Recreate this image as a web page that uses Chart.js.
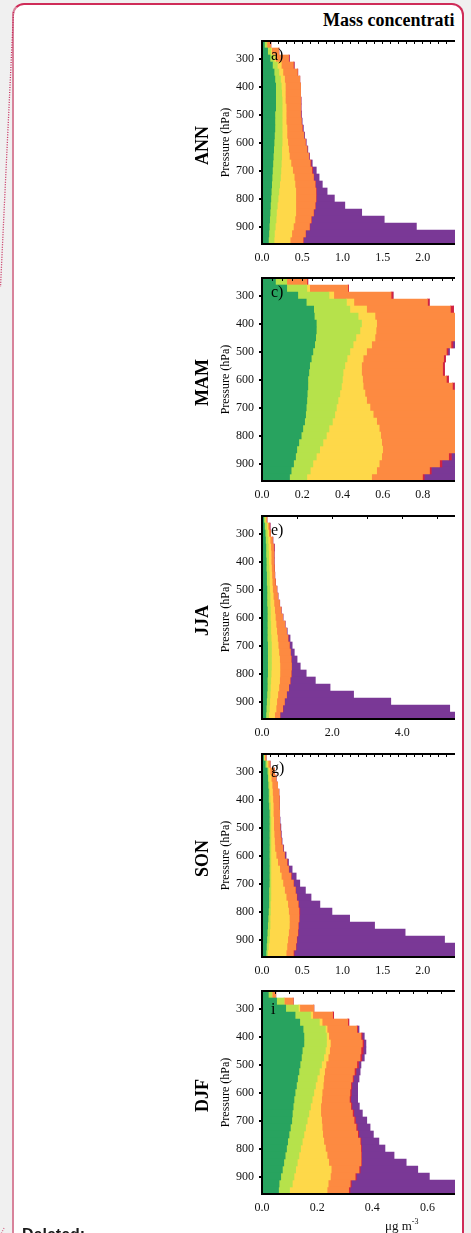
<!DOCTYPE html>
<html>
<head>
<meta charset="utf-8">
<script src="https://cdn.jsdelivr.net/npm/chart.js@4.4.1/dist/chart.umd.min.js"></script>
<style>
  html, body { margin: 0; padding: 0; }
  body {
    width: 471px; height: 1233px; overflow: hidden; position: relative;
    background: #f0f0f0; font-family: "Liberation Serif", "Times New Roman", serif;
  }
  #sheet {
    position: absolute; left: 12px; top: 3px; width: 448px; height: 1300px;
    background: #fff; border: 2px solid #cf2c58; border-left-color: #d8839b;
    border-radius: 12px;
  }
  #connector { position: absolute; left: 0; top: 0; }
  #titleClip { position: absolute; left: 0; top: 0; width: 455px; height: 36px; overflow: hidden; }
  #title {
    position: absolute; left: 323px; top: 11px; white-space: nowrap;
    font: bold 18px/18px "Liberation Serif", serif; color: #000;
  }
  .panel { position: absolute; left: 190px; }
  #unit { position: absolute; left: 385px; top: 1216px; font: 13px/13px "Liberation Serif", serif; color: #111; }
  #unit sup { font-size: 8px; position: relative; top: -1px; }
  #deleted { position: absolute; left: 22px; top: 1227px; font: bold 16px/16px "Liberation Sans", Arial, sans-serif; color: #1a1a1a; }
</style>
</head>
<body>
<div id="sheet"></div>
<svg id="connector" width="20" height="1233">
  <line x1="13.5" y1="12" x2="0.5" y2="287" stroke="#c62a5a" stroke-width="1.3" stroke-dasharray="1 1.5"/>
  <line x1="4" y1="1228" x2="0" y2="1236" stroke="#d66a8a" stroke-width="1.3" stroke-dasharray="1 1.5"/>
</svg>
<div id="titleClip"><div id="title">Mass concentration</div></div>

<canvas class="panel" id="pANN" width="265" height="247" style="top:27px"></canvas>
<canvas class="panel" id="pMAM" width="265" height="247" style="top:264px"></canvas>
<canvas class="panel" id="pJJA" width="265" height="247" style="top:502px"></canvas>
<canvas class="panel" id="pSON" width="265" height="247" style="top:740px"></canvas>
<canvas class="panel" id="pDJF" width="265" height="247" style="top:977px"></canvas>

<div id="unit">μg m<sup>-3</sup></div>
<div id="deleted">Deleted:</div>

<script>
// pressure levels (hPa), one bar per level
const levels = [250, 275, 300, 325, 350, 375, 400, 425, 450, 475, 500, 525, 550, 575, 600,
                625, 650, 675, 700, 725, 750, 775, 800, 825, 850, 875, 900, 925, 950];

// stack colours, left to right
const layerColors = ['#28a35f', '#b6e24b', '#fed849', '#fd8a41', '#d4233f', '#7a3896'];

// component concentrations per level, in stacking order (µg m-3)
const ann = [
  [0.03,0.07,0.10,0.13,0.15,0.16,0.17,0.17,0.17,0.17,0.16,0.16,0.16,0.155,0.15,0.145,0.14,0.135,0.13,0.125,0.12,0.115,0.11,0.105,0.10,0.095,0.09,0.085,0.08],
  [0.03,0.04,0.05,0.06,0.06,0.07,0.07,0.075,0.08,0.08,0.09,0.09,0.09,0.095,0.10,0.10,0.105,0.105,0.105,0.105,0.10,0.095,0.09,0.085,0.08,0.08,0.075,0.07,0.07],
  [0,0.01,0.02,0.05,0.05,0.05,0.05,0.045,0.04,0.05,0.05,0.05,0.06,0.06,0.07,0.085,0.095,0.12,0.145,0.17,0.19,0.21,0.22,0.23,0.24,0.235,0.225,0.215,0.20],
  [0.05,0.09,0.16,0.15,0.18,0.19,0.19,0.19,0.19,0.18,0.18,0.19,0.19,0.21,0.22,0.23,0.24,0.24,0.24,0.24,0.25,0.25,0.25,0.24,0.22,0.20,0.20,0.17,0.16],
  [0,0,0.01,0.01,0.005,0,0,0,0.005,0.005,0.005,0,0.005,0,0.005,0,0.005,0.01,0.01,0.005,0.005,0.005,0.005,0.005,0.005,0.005,0.005,0.005,0.005],
  [0,0,0,0,0,0,0,0,0,0,0.005,0.01,0.01,0.01,0.005,0.01,0.005,0.015,0.045,0.065,0.085,0.135,0.225,0.365,0.595,0.905,1.325,2.055,2.385]
];

const mam = [
  [0.067,0.123,0.178,0.22,0.257,0.26,0.27,0.27,0.267,0.262,0.253,0.245,0.237,0.233,0.228,0.228,0.225,0.223,0.22,0.217,0.212,0.203,0.195,0.183,0.173,0.167,0.157,0.145,0.137],
  [0.056,0.10,0.155,0.20,0.18,0.218,0.225,0.217,0.20,0.191,0.184,0.178,0.175,0.17,0.172,0.167,0.162,0.155,0.15,0.145,0.138,0.13,0.125,0.12,0.114,0.103,0.096,0.095,0.086],
  [0,0.014,0.024,0.037,0.083,0.084,0.075,0.08,0.095,0.092,0.083,0.08,0.083,0.092,0.10,0.108,0.125,0.142,0.167,0.191,0.22,0.25,0.27,0.292,0.313,0.325,0.33,0.33,0.322],
  [0.10,0.19,0.285,0.366,0.417,0.42,0.43,0.42,0.41,0.395,0.397,0.40,0.403,0.403,0.417,0.444,0.47,0.46,0.44,0.42,0.40,0.39,0.38,0.37,0.37,0.333,0.30,0.263,0.253],
  [0.005,0.004,0.01,0.009,0.016,0.01,0.01,0.01,0.01,0.01,0.008,0.01,0.01,0.01,0.011,0.01,0.01,0.01,0.01,0.01,0.01,0.01,0.01,0.01,0.01,0.014,0.012,0.009,0.009],
  [0,0,0,0,0,0.01,0.01,0.01,0.01,0.02,0.008,0,0,0,0,0,0.01,0.01,0.01,0.01,0.01,0.01,0.01,0.02,0.03,0.05,0.10,0.15,0.20]
];

const jja = [
  [0.05,0.07,0.09,0.10,0.11,0.11,0.12,0.12,0.13,0.13,0.14,0.14,0.14,0.15,0.15,0.15,0.15,0.15,0.16,0.16,0.16,0.16,0.16,0.15,0.15,0.14,0.13,0.12,0.11],
  [0.04,0.06,0.06,0.07,0.07,0.08,0.07,0.08,0.08,0.08,0.08,0.09,0.09,0.09,0.09,0.10,0.10,0.11,0.11,0.11,0.11,0.11,0.10,0.10,0.09,0.09,0.09,0.09,0.08],
  [0.02,0.04,0.04,0.06,0.07,0.07,0.07,0.07,0.07,0.08,0.08,0.09,0.11,0.12,0.14,0.15,0.17,0.18,0.19,0.21,0.23,0.24,0.25,0.25,0.24,0.22,0.20,0.19,0.17],
  [0.03,0.04,0.05,0.07,0.08,0.08,0.08,0.08,0.08,0.09,0.12,0.13,0.16,0.18,0.21,0.25,0.28,0.30,0.32,0.33,0.33,0.33,0.32,0.30,0.28,0.25,0.22,0.19,0.15],
  [0,0.02,0.005,0.01,0.02,0.005,0.005,0.005,0.005,0.005,0.005,0.005,0.005,0.005,0.005,0.005,0.005,0.005,0.005,0.005,0.005,0.005,0.005,0.005,0.005,0.005,0.005,0.01,0.005],
  [0,0,0,0,0,0,0,0,0,0,0,0,0,0,0.005,0.005,0.015,0.055,0.075,0.105,0.165,0.245,0.425,0.715,1.175,1.905,3.025,4.75,5.685]
];

const son = [
  [0.02,0.04,0.065,0.07,0.075,0.08,0.08,0.085,0.09,0.09,0.09,0.09,0.09,0.09,0.09,0.09,0.09,0.09,0.09,0.085,0.085,0.085,0.08,0.075,0.07,0.065,0.06,0.055,0.05],
  [0.005,0.02,0.015,0.015,0.015,0.015,0.02,0.02,0.015,0.02,0.02,0.02,0.02,0.02,0.02,0.02,0.02,0.02,0.02,0.025,0.025,0.02,0.025,0.025,0.03,0.03,0.03,0.025,0.02],
  [0.01,0.015,0.02,0.03,0.035,0.035,0.035,0.035,0.035,0.035,0.035,0.04,0.045,0.05,0.065,0.085,0.11,0.13,0.15,0.17,0.19,0.215,0.225,0.24,0.24,0.235,0.23,0.23,0.23],
  [0.015,0.025,0.055,0.06,0.07,0.08,0.08,0.075,0.08,0.075,0.08,0.08,0.085,0.10,0.105,0.115,0.11,0.12,0.13,0.135,0.13,0.13,0.13,0.12,0.11,0.115,0.11,0.11,0.09],
  [0,0,0,0,0,0,0,0,0,0,0,0.005,0.005,0,0.005,0.005,0.005,0.005,0.005,0.005,0.005,0.005,0.01,0.005,0.005,0.005,0.005,0.005,0.01],
  [0,0,0,0,0,0,0,0,0,0.005,0.01,0.005,0.005,0.01,0.015,0.015,0.04,0.06,0.075,0.12,0.175,0.265,0.40,0.625,0.945,1.33,1.835,2.275,2.6]
];

const djf = [
  [0.023,0.053,0.086,0.12,0.137,0.149,0.152,0.152,0.146,0.143,0.138,0.134,0.129,0.125,0.12,0.116,0.113,0.11,0.108,0.103,0.098,0.093,0.089,0.084,0.079,0.074,0.068,0.062,0.06],
  [0.013,0.027,0.046,0.056,0.071,0.081,0.082,0.082,0.084,0.081,0.078,0.074,0.071,0.069,0.068,0.066,0.063,0.06,0.056,0.055,0.054,0.053,0.051,0.05,0.049,0.048,0.048,0.048,0.04],
  [0,0,0.005,0.008,0.01,0.006,0.008,0.014,0.015,0.016,0.016,0.019,0.024,0.028,0.03,0.034,0.037,0.043,0.052,0.06,0.068,0.078,0.09,0.102,0.114,0.129,0.132,0.13,0.136],
  [0.014,0.033,0.051,0.072,0.093,0.108,0.117,0.116,0.114,0.116,0.112,0.108,0.104,0.10,0.101,0.101,0.109,0.115,0.118,0.123,0.127,0.132,0.128,0.123,0.117,0.101,0.09,0.08,0.078],
  [0,0,0,0.004,0.004,0.003,0.004,0.005,0.008,0.006,0.006,0.006,0.004,0.004,0.005,0.005,0.004,0.005,0.005,0.004,0.004,0.003,0.003,0.002,0.002,0.004,0.004,0.004,0.005],
  [0,0,0,0,0,0.005,0.008,0.008,0.01,0.009,0.009,0.015,0.02,0.021,0.023,0.025,0.027,0.031,0.041,0.047,0.053,0.065,0.085,0.118,0.162,0.209,0.265,0.426,0.481]
];

// one entry per panel: season, panel letter, data, axis extent and tick steps
const panels = [
  { id: 'pANN', season: 'ANN', letter: 'a)', layers: ann, xMax: 2.4,  major: 0.5, minor: 0.1,  drop: 19 },
  { id: 'pMAM', season: 'MAM', letter: 'c)', layers: mam, xMax: 0.96, major: 0.2, minor: 0.05, drop: 19 },
  { id: 'pJJA', season: 'JJA', letter: 'e)', layers: jja, xMax: 5.5,  major: 2.0, minor: 1.0,  drop: 19 },
  { id: 'pSON', season: 'SON', letter: 'g)', layers: son, xMax: 2.4,  major: 0.5, minor: 0.1,  drop: 19 },
  { id: 'pDJF', season: 'DJF', letter: 'i',  layers: djf, xMax: 0.70, major: 0.2, minor: 0.05, drop: 23 }
];

const serif = '"Liberation Serif", "Times New Roman", serif';

// season name, axis title and panel letter
const panelLabels = {
  id: 'panelLabels',
  afterDraw(chart, args, opts) {
    const { ctx, chartArea: a } = chart;
    const mid = (a.top + a.bottom) / 2;
    ctx.save();
    ctx.fillStyle = '#000';
    ctx.textAlign = 'center';
    ctx.textBaseline = 'middle';

    ctx.save();
    ctx.translate(a.left - 59, mid + 3);
    ctx.rotate(-Math.PI / 2);
    ctx.font = 'bold 18px ' + serif;
    ctx.fillText(opts.season, 0, 0);
    ctx.restore();

    ctx.save();
    ctx.translate(a.left - 36, mid);
    ctx.rotate(-Math.PI / 2);
    ctx.font = '12px ' + serif;
    ctx.fillText('Pressure (hPa)', 0, 0);
    ctx.restore();

    ctx.textAlign = 'left';
    ctx.textBaseline = 'alphabetic';
    ctx.font = '16px ' + serif;
    ctx.fillText(opts.letter, a.left + 9, a.top + opts.drop);
    ctx.restore();
  }
};

panels.forEach(p => {
  const ctx = document.getElementById(p.id).getContext('2d');
  new Chart(ctx, {
    type: 'bar',
    data: {
      labels: levels,
      datasets: p.layers.map((vals, i) => ({
        data: vals,
        backgroundColor: layerColors[i],
        borderWidth: 0,
        barPercentage: 1,
        categoryPercentage: 1,
        clip: 0
      }))
    },
    options: {
      indexAxis: 'y',
      responsive: false,
      animation: false,
      devicePixelRatio: 1,
      layout: { padding: 0 },
      scales: {
        x: {
          type: 'linear',
          position: 'bottom',
          stacked: true,
          offset: false,
          min: 0,
          max: p.xMax,
          ticks: {
            stepSize: p.major,
            includeBounds: false,
            padding: 7,
            color: '#111',
            font: { family: serif, size: 12 },
            callback: v => v.toFixed(1)
          },
          grid: { display: false, drawTicks: false },
          border: { display: true, width: 2, color: '#000', z: 1 },
          afterFit: s => { s.height = 30; }
        },
        xTop: {
          type: 'linear',
          position: 'top',
          offset: false,
          min: 0,
          max: p.xMax,
          ticks: { display: false, stepSize: p.minor, includeBounds: false },
          grid: { display: true, drawOnChartArea: false, drawTicks: true, tickLength: -3, color: '#000', lineWidth: 1, z: 1 },
          border: { display: true, width: 2, color: '#000', z: 1 },
          afterFit: s => { s.height = 14; }
        },
        y: {
          type: 'linear',
          reverse: true,
          stacked: true,
          offset: false,
          min: 237.5,
          max: 962.5,
          ticks: {
            stepSize: 100,
            includeBounds: false,
            padding: 5,
            color: '#111',
            font: { family: serif, size: 12 }
          },
          grid: { display: true, offset: false, drawOnChartArea: false, drawTicks: true, tickLength: 3, color: '#000', lineWidth: 2, z: 1 },
          border: { display: true, width: 2, color: '#000', z: 1 },
          afterFit: s => { s.width = 72; }
        }
      },
      plugins: {
        legend: { display: false },
        tooltip: { enabled: false },
        panelLabels: { season: p.season, letter: p.letter, drop: p.drop }
      }
    },
    plugins: [panelLabels]
  });
});
</script>
</body>
</html>
